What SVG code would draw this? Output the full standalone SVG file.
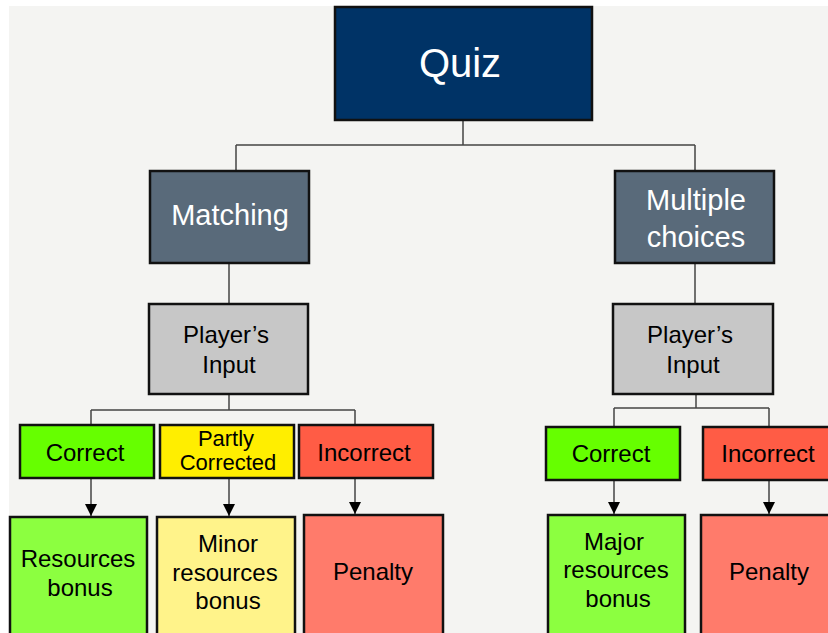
<svg xmlns="http://www.w3.org/2000/svg" width="828" height="633" viewBox="0 0 828 633">
<style>
.box{stroke:#111;stroke-width:2.5}
.t{font-family:"Liberation Sans",Arial,sans-serif;text-anchor:middle;fill:#000}
.s{font-size:24px}
.p{font-size:22px}
.m{font-size:29px}
.q{font-size:40px}
.w{fill:#fff}
.c{fill:none;stroke:#444;stroke-width:1.5}
</style>
<defs>
<marker id="ah" viewBox="0 0 10 10" refX="10" refY="5" markerWidth="12" markerHeight="12" markerUnits="userSpaceOnUse" orient="auto">
<path d="M0,0 L10,5 L0,10 Z" fill="#000"/>
</marker>
</defs>
<rect x="0" y="0" width="828" height="633" fill="#fff"/>
<rect x="9" y="6" width="819" height="627" fill="#f4f4f2"/>
<g id="connectors">
<path class="c" d="M463,120 V145 M236,145 H695 M236,145 V171 M695,145 V171"/>
<path class="c" d="M229,264 V304 M695,264 V304"/>
<path class="c" d="M229,394 V410 M91,410 H355 M91,410 V425 M355,410 V425"/>
<path class="c" d="M696,394 V408 M614,408 H769 M614,408 V427 M769,408 V427"/>
<path class="c" d="M91,478 V516" marker-end="url(#ah)"/>
<path class="c" d="M229,478 V516" marker-end="url(#ah)"/>
<path class="c" d="M355,478 V514" marker-end="url(#ah)"/>
<path class="c" d="M614,480 V514" marker-end="url(#ah)"/>
<path class="c" d="M769,480 V514" marker-end="url(#ah)"/>
</g>
<g id="quiz">
<rect class="box" x="335" y="7" width="257" height="113" fill="#003366"/>
<text class="t w q" x="460" y="77">Quiz</text>
</g>
<g id="matching">
<rect class="box" x="150" y="171" width="159" height="92" fill="#596a7a"/>
<text class="t w m" x="230" y="225">Matching</text>
</g>
<g id="multiple">
<rect class="box" x="615" y="171" width="159" height="92" fill="#596a7a"/>
<text class="t w m" x="696" y="210">Multiple</text>
<text class="t w m" x="696" y="247">choices</text>
</g>
<g id="input1">
<rect class="box" x="149" y="304" width="159" height="90" fill="#c7c7c7"/>
<text class="t s" x="226" y="343">Player’s</text>
<text class="t s" x="229" y="373">Input</text>
</g>
<g id="input2">
<rect class="box" x="613" y="304" width="160" height="90" fill="#c7c7c7"/>
<text class="t s" x="690" y="343">Player’s</text>
<text class="t s" x="693" y="373">Input</text>
</g>
<g id="correct1">
<rect class="box" x="20" y="425" width="134" height="53" fill="#66ff00"/>
<text class="t s" x="85" y="461">Correct</text>
</g>
<g id="partly">
<rect class="box" x="160" y="425" width="134" height="53" fill="#ffee00"/>
<text class="t p" x="226" y="446">Partly</text>
<text class="t p" x="228" y="470">Corrected</text>
</g>
<g id="incorrect1">
<rect class="box" x="299" y="425" width="134" height="53" fill="#ff5c45"/>
<text class="t s" x="364" y="461">Incorrect</text>
</g>
<g id="correct2">
<rect class="box" x="546" y="427" width="134" height="53" fill="#66ff00"/>
<text class="t s" x="611" y="462">Correct</text>
</g>
<g id="incorrect2">
<rect class="box" x="703" y="427" width="134" height="53" fill="#ff5c45"/>
<text class="t s" x="768" y="462">Incorrect</text>
</g>
<g id="resources">
<rect class="box" x="10" y="517" width="137" height="130" fill="#8cff40"/>
<text class="t s" x="78" y="567">Resources</text>
<text class="t s" x="80" y="596">bonus</text>
</g>
<g id="minor">
<rect class="box" x="157" y="517" width="138" height="130" fill="#fff38a"/>
<text class="t s" x="228" y="552">Minor</text>
<text class="t s" x="225" y="581">resources</text>
<text class="t s" x="228" y="609">bonus</text>
</g>
<g id="penalty1">
<rect class="box" x="304" y="515" width="139" height="130" fill="#ff7b6b"/>
<text class="t s" x="373" y="580">Penalty</text>
</g>
<g id="major">
<rect class="box" x="548" y="515" width="137" height="130" fill="#8cff40"/>
<text class="t s" x="614" y="550">Major</text>
<text class="t s" x="616" y="578">resources</text>
<text class="t s" x="618" y="607">bonus</text>
</g>
<g id="penalty2">
<rect class="box" x="701" y="515" width="137" height="130" fill="#ff7b6b"/>
<text class="t s" x="769" y="580">Penalty</text>
</g>
</svg>
